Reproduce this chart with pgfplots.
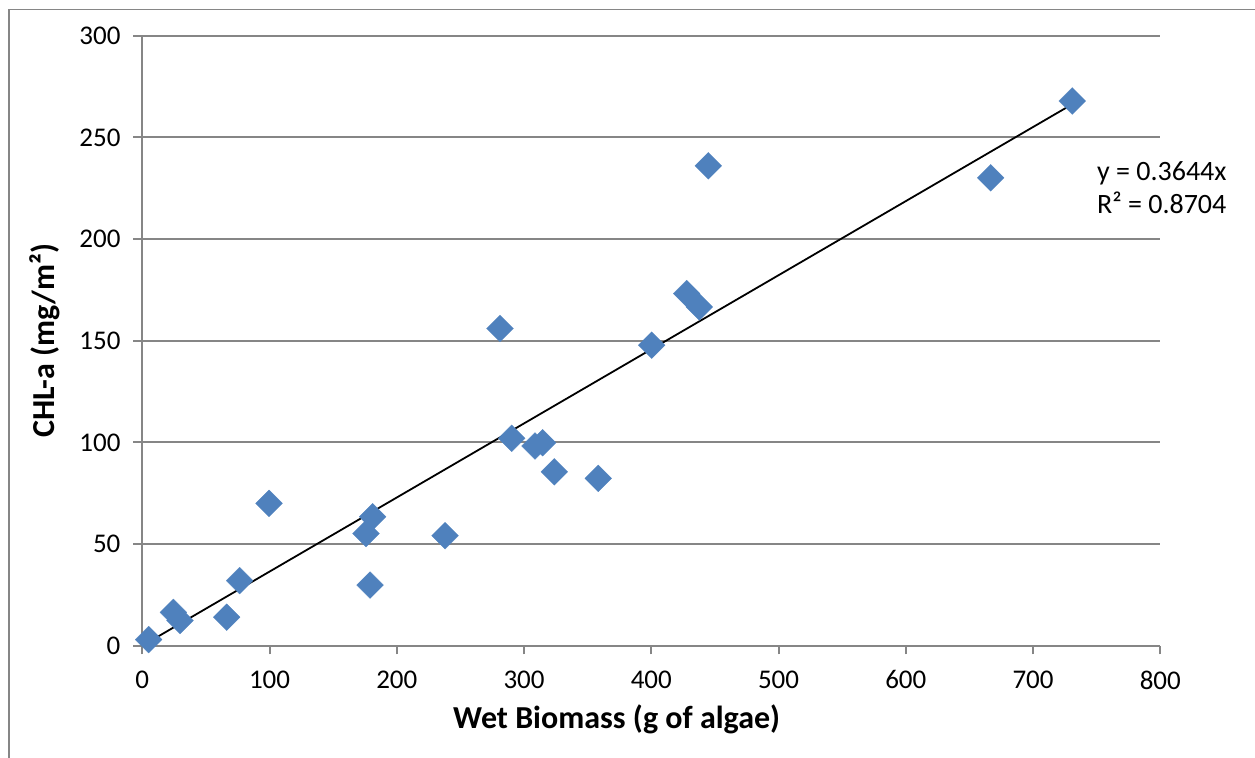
\documentclass[border=0pt]{standalone}
\usepackage{fontspec}
\setmainfont{Carlito}
\usepackage{pgfplots}
\pgfplotsset{compat=1.18}
\definecolor{gridgray}{HTML}{868686}
\definecolor{markblue}{HTML}{4F81BD}
\begin{document}
\begin{tikzpicture}
\useasboundingbox (-71.15pt,-56.15pt) rectangle (556.35pt,322.85pt);
\draw[gridgray, line width=0.75pt] (-66.65pt,-60pt) -- (-66.65pt,318.1pt) -- (560pt,318.1pt);
\begin{axis}[
  at={(0pt,0pt)}, anchor=south west,
  scale only axis,
  width=509pt, height=305pt,
  xmin=0, xmax=800, ymin=0, ymax=300,
  xtick={0,100,...,800},
  ytick={0,50,...,300},
  axis x line*=bottom, axis y line*=left,
  axis line style={gridgray, line width=1pt, -},
  tick align=outside,
  major tick length=4.4pt,
  tick style={gridgray, line width=1pt},
  ymajorgrids,
  major grid style={gridgray, line width=1pt},
  tick label style={font=\fontsize{13.5}{16}\selectfont, text=black},
  /pgf/number format/assume math mode=true,
  yticklabel style={xshift=-3pt},
  xticklabel style={yshift=-4.5pt},
  xlabel={\textbf{Wet Biomass (g of algae)}},
  ylabel={\textbf{CHL-a (mg/m²)}},
  label style={font=\fontsize{16}{19}\selectfont},
  xlabel style={at={(axis description cs:0.466,0)}, anchor=center, yshift=-37pt},
  ylabel style={at={(axis description cs:0,0.5)}, anchor=center, yshift=48.6pt},
  clip=false,
]
\addplot[only marks, mark=square*, mark size=4.75pt,
  mark options={rotate=45, fill=markblue, draw=markblue, line width=0.1pt}]
  coordinates {
  (5,3) (24.4,16.4) (29.6,12.4) (66.3,14.0) (76.5,32.0) (99.6,70.0)
  (181,63.4) (175.8,55.2) (179,29.8) (237.9,54.1) (281.1,156.0)
  (290.3,102.0) (308.6,98.2) (314.6,99.8) (323.8,85.5) (358.3,82.3)
  (400.3,147.8) (427.8,173.2) (437.7,166.6) (444.8,236.0)
  (666.7,230.1) (730.8,267.9)
  };
\addplot[black, line width=0.9pt] coordinates {(4.7,1.713) (730.8,266.3)};
\end{axis}
\node[anchor=base west, font=\fontsize{14}{16}\selectfont, inner sep=0pt] at (477.2pt,232.6pt) {y = 0.3644x};
\node[anchor=base west, font=\fontsize{14}{16}\selectfont, inner sep=0pt] at (477.2pt,216.1pt) {R² = 0.8704};
\end{tikzpicture}
\end{document}
